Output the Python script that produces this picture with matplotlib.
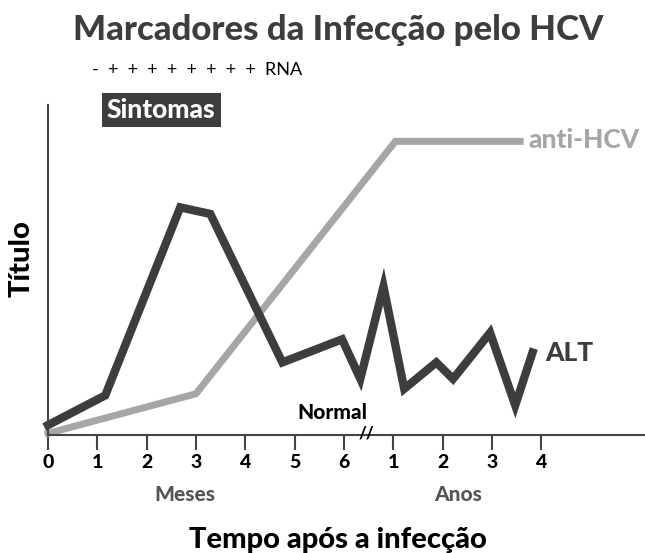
import matplotlib
matplotlib.use('Agg')
import matplotlib.pyplot as plt

plt.rcParams['font.family'] = ['Lato', 'DejaVu Sans']

# dados (eixo x contínuo: 0-6 meses, depois 7-10 = anos 1-4)
alt_x = [0, 1.16, 2.68, 3.29, 4.75, 5.96, 6.33, 6.80, 7.22, 7.87, 8.21, 8.96, 9.47, 9.82]
alt_y = [3, 12, 69, 67, 22, 29, 17, 45, 14, 22, 17, 31, 9, 25]
hcv_x = [0, 3, 7.04, 9.57]
hcv_y = [0.5, 12.5, 89, 89]
tick_pos = [0, 1, 2, 3, 4, 5, 6, 7, 8, 9, 10]
tick_lbl = ['0', '1', '2', '3', '4', '5', '6', '1', '2', '3', '4']

dark = '#3d3d3d'
gray = '#a6a6a6'
W = 900  # peso da fonte

fig = plt.figure(figsize=(6.45, 5.53), dpi=100)
ax = fig.add_axes([0.0744, 0.2134, 0.9256, 0.5966])

ax.plot(hcv_x, hcv_y, color=gray, lw=5, solid_joinstyle='miter', clip_on=False)
ax.plot(alt_x, alt_y, color=dark, lw=6, solid_joinstyle='miter', clip_on=False)

ax.set_xlim(0, 12.1)
ax.set_ylim(0, 100)
ax.set_yticks([])
ax.set_xticks(tick_pos)
ax.set_xticklabels(tick_lbl, fontsize=14, fontweight=W)
ax.tick_params(axis='x', direction='out', length=11, width=1.5, color='#444444', pad=3)
for s in ['top', 'right']:
    ax.spines[s].set_visible(False)
for s in ['left', 'bottom']:
    ax.spines[s].set_color('#444444')
    ax.spines[s].set_linewidth(1.5)

# rótulos das curvas
ax.text(9.74, 89.4, 'anti-HCV', color=gray, fontsize=19, fontweight=W, va='center')
ax.text(10.08, 25, 'ALT', color=dark, fontsize=19, fontweight=W, va='center')
ax.text(5.76, 6.7, 'Normal', color='black', fontsize=15, fontweight=W, ha='center', va='center')
ax.text(6.45, 0.5, '//', color='black', fontsize=12, fontweight=W, ha='center', va='center')

# textos da figura
fig.text(0.524, 0.946, 'Marcadores da Infecção pelo HCV', color=dark, fontsize=25,
         fontweight=W, ha='center', va='center')
fig.text(0.143, 0.873, '-  +  +  +  +  +  +  +  +  RNA', color='black', fontsize=13,
         ha='left', va='center')
fig.text(0.25, 0.801, 'Sintomas', color='white', fontsize=19, fontweight=W, ha='center', va='center',
         bbox=dict(boxstyle='square,pad=0.2', fc=dark, ec='none'))
fig.text(0.034, 0.533, 'Título', color='black', fontsize=21, fontweight=W,
         rotation=90, ha='center', va='center')
fig.text(0.287, 0.105, 'Meses', color='#555555', fontsize=15, fontweight=W, ha='center', va='center')
fig.text(0.71, 0.105, 'Anos', color='#555555', fontsize=15, fontweight=W, ha='center', va='center')
fig.text(0.524, 0.0235, 'Tempo após a infecção', color='black', fontsize=21, fontweight=W,
         ha='center', va='center')

fig.savefig('out.png', dpi=100)
